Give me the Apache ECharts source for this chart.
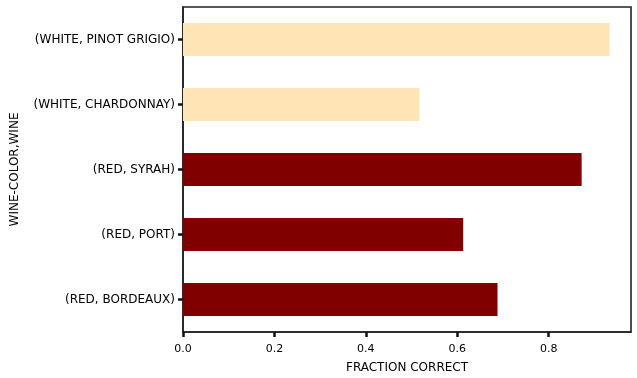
<!DOCTYPE html>
<html><head><meta charset="utf-8">
<script src="https://cdn.jsdelivr.net/npm/echarts@6/dist/echarts.min.js"></script>
<style>html,body{margin:0;padding:0;background:#fff}#c{width:637px;height:378px}</style>
</head><body><div id="c"></div>
<script>
const categories = ['(RED, BORDEAUX)', '(RED, PORT)', '(RED, SYRAH)', '(WHITE, CHARDONNAY)', '(WHITE, PINOT GRIGIO)'];
const fractionCorrect = [0.688, 0.613, 0.872, 0.517, 0.933];
const wineColor = ['red', 'red', 'red', 'white', 'white'];
const xTicks = [0, 0.2, 0.4, 0.6, 0.8];
const colorMap = { red: '#800000', white: '#FFE4B5' };
const font = 'DejaVu Sans';
const chart = echarts.init(document.getElementById('c'));
chart.setOption({
  animation: false,
  grid: { left: 183, right: 6, top: 7, bottom: 46, show: true, borderColor: '#222', borderWidth: 1.6,
          backgroundColor: 'transparent', outerBoundsMode: 'none', containLabel: false },
  xAxis: {
    type: 'value', min: 0, max: 0.98, interval: 0.2,
    name: 'FRACTION CORRECT', nameLocation: 'middle', nameGap: 30,
    nameTextStyle: { fontFamily: font, fontSize: 12, color: '#000' },
    axisLine: { show: true, lineStyle: { color: '#222', width: 1.6 } },
    axisTick: { show: true, length: 5, lineStyle: { color: '#111', width: 2.5 } },
    axisLabel: { fontFamily: font, fontSize: 11, color: '#000', margin: 12, showMaxLabel: false,
      formatter: v => xTicks.some(t => Math.abs(t - v) < 1e-9) ? v.toFixed(1) : '' },
    splitLine: { show: false }
  },
  yAxis: {
    type: 'category', data: categories,
    name: 'WINE-COLOR,WINE', nameLocation: 'middle', nameGap: 162,
    nameTextStyle: { fontFamily: font, fontSize: 12, color: '#000' },
    axisLine: { show: true, lineStyle: { color: '#222', width: 1.6 } },
    axisTick: { show: true, alignWithLabel: true, length: 5, lineStyle: { color: '#111', width: 2.5 } },
    axisLabel: { fontFamily: font, fontSize: 12, color: '#000', margin: 8 }
  },
  series: [{
    type: 'bar', barWidth: '51%',
    data: fractionCorrect.map((v, i) => ({ value: v, itemStyle: { color: colorMap[wineColor[i]] } }))
  }]
});
</script></body></html>
